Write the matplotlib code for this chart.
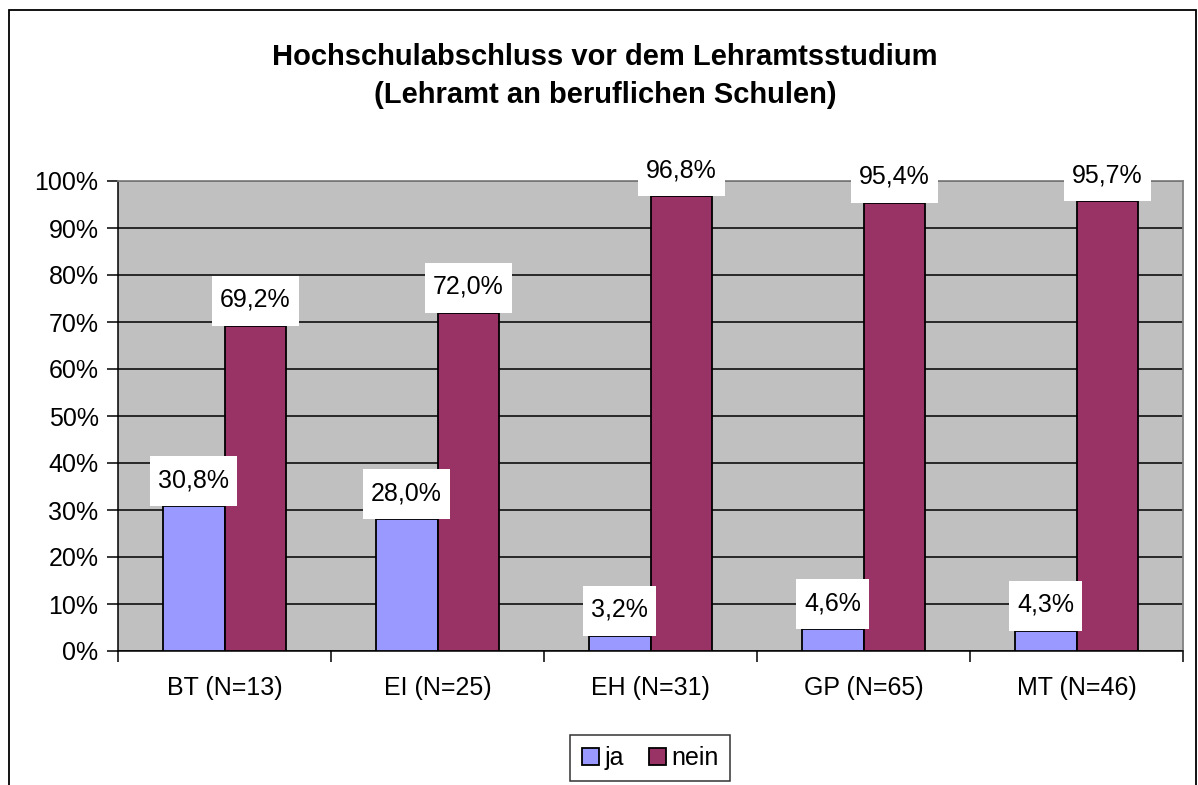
import numpy as np
import matplotlib
matplotlib.use('Agg')
import matplotlib.pyplot as plt
from matplotlib.patches import Rectangle
from matplotlib.ticker import FixedLocator, NullFormatter

plt.rcParams['font.family'] = ['Liberation Sans', 'DejaVu Sans']

categories = ['BT (N=13)', 'EI (N=25)', 'EH (N=31)', 'GP (N=65)', 'MT (N=46)']
ja = [30.8, 28.0, 3.2, 4.6, 4.3]
nein = [69.2, 72.0, 96.8, 95.4, 95.7]
series_names = ['ja', 'nein']
colors = ['#9999FF', '#993366']

W, H = 1198, 785
FS = 18
fig = plt.figure(figsize=(W / 100, H / 100), dpi=100, facecolor='white')

# outer chart frame (bottom edge lies outside the picture)
fig.patches.append(Rectangle((9 / W, -0.05), (1196 - 9) / W, 1.05 - 10 / H,
                             transform=fig.transFigure, fill=False,
                             ec='black', lw=1.3))

ax = fig.add_axes([118 / W, (H - 651) / H, (1183 - 118) / W, (651 - 181) / H])
ax.set_facecolor('#C0C0C0')

x = np.arange(len(categories))
bw = 0.29
b1 = ax.bar(x - bw / 2, ja, bw, color=colors[0], edgecolor='black', lw=1.3,
            label=series_names[0], zorder=3)
b2 = ax.bar(x + bw / 2, nein, bw, color=colors[1], edgecolor='black', lw=1.3,
            label=series_names[1], zorder=3)

ax.set_xlim(-0.5, len(categories) - 0.5)
ax.set_ylim(0, 100)

# value labels: white box sitting on the bar top, 50 px high, text + 8 px each side
fig.canvas.draw()
rend = fig.canvas.get_renderer()
inv = ax.transData.inverted()
for bars, vals in ((b1, ja), (b2, nein)):
    for r, v in zip(bars, vals):
        cx = r.get_x() + r.get_width() / 2
        px, py = ax.transData.transform((cx, v))
        t = ax.text(*inv.transform((px, py + 26)), f'{v:.1f}%'.replace('.', ','),
                    ha='center', va='center', fontsize=FS, zorder=6, clip_on=False)
        tw = t.get_window_extent(rend).width
        (x0, y0), (x1, y1) = inv.transform([(px - tw / 2 - 8, py), (px + tw / 2 + 8, py + 50)])
        ax.add_patch(Rectangle((x0, y0), x1 - x0, y1 - y0, fc='white', ec='none',
                               zorder=5, clip_on=False))

ax.set_yticks(np.arange(0, 101, 10))
ax.set_yticklabels([f'{v}%' for v in range(0, 101, 10)], fontsize=FS)
ax.yaxis.grid(True, color='black', lw=1.1, zorder=1)
ax.set_axisbelow(True)

ax.set_xticks(x)
ax.set_xticklabels(categories, fontsize=FS)
ax.tick_params(axis='x', which='major', length=0, pad=18)
ax.xaxis.set_minor_locator(FixedLocator(np.arange(-0.5, len(categories), 1.0)))
ax.xaxis.set_minor_formatter(NullFormatter())
ax.tick_params(axis='x', which='minor', length=8, width=1.1, direction='out')
ax.tick_params(axis='y', length=8, width=1.1, direction='out', pad=6)

for s in ('top', 'right'):
    ax.spines[s].set_color('#808080')
    ax.spines[s].set_linewidth(1.3)
for s in ('left', 'bottom'):
    ax.spines[s].set_color('black')
    ax.spines[s].set_linewidth(1.1)

fig.text(605 / W, 1 - 76 / H,
         'Hochschulabschluss vor dem Lehramtsstudium\n(Lehramt an beruflichen Schulen)',
         ha='center', va='center', fontsize=21, fontweight='bold', linespacing=1.42)

leg = fig.legend(loc='center', bbox_to_anchor=(650 / W, 1 - 758 / H), ncol=2,
                 fontsize=FS, frameon=True, fancybox=False, edgecolor='black',
                 handlelength=0.7, handleheight=0.7, handletextpad=0.2,
                 columnspacing=1.0, borderpad=0.45)
leg.get_frame().set_linewidth(1.1)

fig.savefig('out.png', dpi=100, facecolor='white')
